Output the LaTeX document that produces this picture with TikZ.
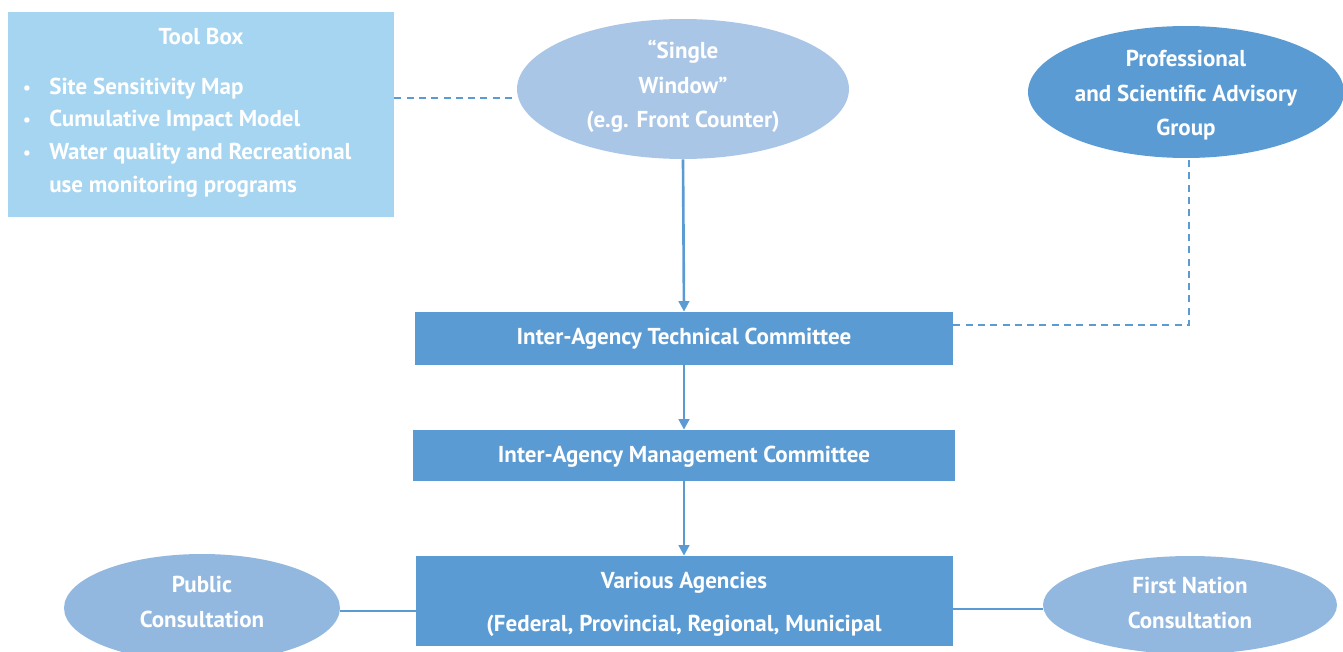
\documentclass[tikz,border=0pt]{standalone}
\usepackage{fontspec}
\setmainfont{PT Sans}
\usetikzlibrary{arrows.meta,shapes.geometric}
\definecolor{toolblue}{HTML}{A6D5F1}
\definecolor{winblue}{HTML}{AAC6E6}
\definecolor{midblue}{HTML}{5B9BD4}
\definecolor{consblue}{HTML}{93B8E0}
\tikzset{
  px/.style={x=0.02cm,y=-0.02cm},
  txt/.style={text=white,font=\bfseries\fontsize{13.1}{15}\selectfont,inner sep=0pt,anchor=base,yshift=-0.03cm},
  ltxt/.style={txt,anchor=base west},
  boxnode/.style={fill=midblue,draw=none,inner sep=0pt,rectangle},
  ell/.style={ellipse,draw=none,inner sep=0pt},
  conn/.style={draw=midblue,line width=1.5pt},
  dconn/.style={draw=midblue,line width=1.3pt,dash pattern=on 4pt off 3pt},
  arr/.style={conn,-{Triangle[width=6pt,length=6pt]}},
}
\begin{document}
\begin{tikzpicture}[px]
\useasboundingbox (0,0) rectangle (1343,652);
\clip (0,0) rectangle (1343,652);
% Tool box
\node[boxnode,fill=toolblue,minimum width=7.72cm,minimum height=4.1cm] (tool) at (201,114.5) {};
\node[txt] (tooltitle) at (201,43) {Tool Box};
\foreach \yb/\nm/\t/\b in {93/t1/Site Sensitivity Map/1,125/t2/Cumulative Impact Model/1,158/t3/Water quality and Recreational/1,191/t4/use monitoring programs/0}{
  \node[ltxt] (\nm) at (49,\yb) {\t};
  \ifnum\b=1 \node[txt,font=\fontsize{11}{12}\selectfont] (\nm b) at (27,\yb) {•};\fi
}
% single window
\node[ell,fill=winblue,minimum width=6.64cm,minimum height=2.8cm] (sw) at (683,89) {};
\node[txt] (sw1) at (683,57) {“Single};
\node[txt] (sw2) at (683,92) {Window”};
\node[txt] (sw3) at (683,126) {(e.g. Front Counter)};
% professional
\node[ell,fill=midblue,minimum width=6.32cm,minimum height=2.64cm] (pro) at (1186,92) {};
\node[txt] (pro1) at (1186,65) {Professional};
\node[txt] (pro2) at (1186,100) {and Scientific Advisory};
\node[txt] (pro3) at (1186,134) {Group};
% technical
\node[boxnode,minimum width=10.76cm,minimum height=1.06cm] (tech) at (684,338.5) {};
\node[txt] (techt) at (684,343) {Inter-Agency Technical Committee};
% management
\node[boxnode,minimum width=10.84cm,minimum height=1.02cm] (man) at (684,455.5) {};
\node[txt] (mant) at (684,461) {Inter-Agency Management Committee};
% various
\node[boxnode,minimum width=10.74cm,minimum height=1.8cm] (var) at (684.5,601) {};
\node[txt] (var1) at (684,587) {Various Agencies};
\node[txt] (var2) at (684,630) {(Federal, Provincial, Regional, Municipal};
% public
\node[ell,fill=consblue,minimum width=5.52cm,minimum height=2.16cm] (pub) at (202,608) {};
\node[txt] (pub1) at (202,591) {Public};
\node[txt] (pub2) at (202,626) {Consultation};
% first nation
\node[ell,fill=consblue,minimum width=5.88cm,minimum height=1.96cm] (fn) at (1190,605) {};
\node[txt] (fn1) at (1190,592) {First Nation};
\node[txt] (fn2) at (1190,627) {Consultation};
% connectors
\draw[dconn] (tool.east |- 0,98) -- (sw.west |- 0,98);
\draw[arr] (sw.south) -- (tech.north);
\draw[arr] (tech.south) -- (man.north -| tech.south);
\draw[arr] (man.south -| tech.south) -- (var.north -| tech.south);
\coordinate (corner) at (1189,325);
\draw[dconn] (tech.east |- corner) -- (corner) -- (pro.south -| corner);
\draw[conn] (pub.east |- 0,611) -- (var.west |- 0,611);
\draw[conn] (var.east |- 0,609) -- (fn.west |- 0,609);
\end{tikzpicture}
\end{document}
